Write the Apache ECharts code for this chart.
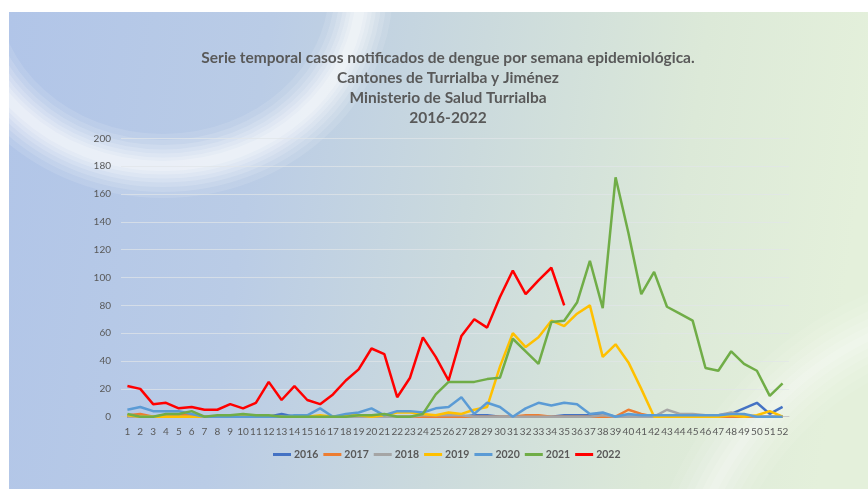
<!DOCTYPE html>
<html>
<head>
<meta charset="utf-8">
<script src="https://cdn.jsdelivr.net/npm/echarts@6/dist/echarts.min.js"></script>
<style>
html,body{margin:0;padding:0;background:#ffffff;}
#chart{width:868px;height:492px;}
</style>
</head>
<body>
<div id="chart"></div>
<script>
// ---- Data ----
const titleLines = [
  'Serie temporal casos notificados de dengue por semana epidemiológica.',
  'Cantones de Turrialba y Jiménez',
  'Ministerio de Salud Turrialba',
  '2016-2022'
];
const weeks = [];
for (let i = 1; i <= 52; i++) weeks.push(String(i));
const seriesNames = ['2016','2017','2018','2019','2020','2021','2022'];
const seriesColors = ['#4472C4','#ED7D31','#A5A5A5','#FFC000','#5B9BD5','#70AD47','#FF0000'];

const y2016 = [0,0,0,0,0,0,0,0,0,0,0,0,2,0,0,0,0,0,0,0,0,0,0,0,0,0,0,1,1,0,0,0,0,0,1,1,1,2,0,0,0,0,0,0,0,0,1,2,6,10,2,7];
const y2017 = [1,2,0,1,1,1,0,0,0,0,0,0,0,0,0,0,0,0,0,0,0,0,0,0,0,0,0,0,0,0,0,1,1,0,0,0,0,0,0,5,2,0,0,0,0,0,0,0,0,0,0,0];
const y2018 = [0,0,0,0,0,0,0,0,0,0,0,0,0,0,0,0,0,0,0,0,0,0,0,1,1,1,1,0,0,0,0,0,0,0,0,0,0,1,0,0,0,0,5,2,2,1,1,3,1,0,0,0];
const y2019 = [1,0,0,0,0,0,0,0,0,1,1,0,0,0,0,1,0,1,1,0,1,3,3,2,1,3,2,5,7,36,60,50,57,69,65,74,80,43,52,39,20,0,0,0,0,0,0,1,0,1,4,0];
const y2020 = [5,7,4,4,4,2,0,0,0,0,0,0,0,1,1,6,0,2,3,6,1,4,4,3,6,7,14,2,10,7,0,6,10,8,10,9,2,3,0,2,1,1,1,1,1,1,1,2,2,0,0,0];
const y2021 = [2,0,0,2,2,4,0,1,1,2,1,1,0,0,0,0,0,0,1,1,2,0,0,2,16,25,25,25,27,28,56,47,38,68,69,82,112,78,172,132,88,104,79,74,69,35,33,47,38,33,15,24];
const y2022 = [22,20,9,10,6,7,5,5,9,6,10,25,12,22,12,9,16,26,34,49,45,14,28,57,43,26,58,70,64,86,105,88,98,107,80];

const yMin = 0, yMax = 200, yStep = 20;
const seriesData = [y2016, y2017, y2018, y2019, y2020, y2021, y2022];

// ---- Chart ----
const chart = echarts.init(document.getElementById('chart'), null, {renderer: 'canvas'});
const textColor = '#595959';
const font = 'Lato, "Liberation Sans", sans-serif';

const graphics = [
  {
    type: 'rect', z: -100, silent: true,
    shape: {x: 9, y: 12, width: 859, height: 477},
    style: {
      fill: new echarts.graphic.LinearGradient(0, 0, 1, 0.25, [
        {offset: 0, color: '#b1c5e8'},
        {offset: 0.3, color: '#bacce6'},
        {offset: 0.55, color: '#cbdadd'},
        {offset: 0.8, color: '#dce9d8'},
        {offset: 1, color: '#e4f0db'}
      ])
    }
  }
];
[64, 52, 42, 33, 25, 17, 10].forEach((w, k) => graphics.push({
  type: 'ellipse', z: -90, silent: true,
  shape: {cx: 163, cy: -12, rx: 198, ry: 178},
  style: {fill: 'none', stroke: 'rgba(255,255,255,' + (0.11 + k * 0.02) + ')', lineWidth: w}
}));
[80, 64, 48, 34, 20, 8].forEach((w, k) => graphics.push({
  type: 'ellipse', z: -90, silent: true,
  shape: {cx: 1010, cy: 650, rx: 335, ry: 345},
  style: {fill: 'none', stroke: 'rgba(255,255,255,' + (0.07 + k * 0.014) + ')', lineWidth: w}
}));
// white frame to cover decorations outside panel
graphics.push({type: 'rect', z: -80, silent: true, shape: {x: 0, y: 0, width: 868, height: 12}, style: {fill: '#fff'}});
graphics.push({type: 'rect', z: -80, silent: true, shape: {x: 0, y: 0, width: 9, height: 492}, style: {fill: '#fff'}});
graphics.push({type: 'rect', z: -80, silent: true, shape: {x: 0, y: 489, width: 868, height: 3}, style: {fill: '#fff'}});

const option = {
  backgroundColor: 'transparent',
  animation: false,
  graphic: {elements: graphics},
  title: {
    text: titleLines.join('\n'),
    left: 443, top: 43, textAlign: 'center',
    textStyle: {
      fontFamily: font, fontSize: 15.5, fontWeight: 'bold', color: textColor, lineHeight: 20
    }
  },
  legend: {
    data: seriesNames,
    left: 268, top: 444,
    icon: 'rect', itemWidth: 18, itemHeight: 3, itemGap: 5,
    textStyle: {fontFamily: font, fontSize: 10.5, fontWeight: 'bold', color: textColor, padding: [0,0,0,-2]}
  },
  grid: {left: 121, right: 79, top: 138.3, bottom: 75.3, containLabel: false},
  xAxis: {
    type: 'category', data: weeks, boundaryGap: true,
    axisLine: {show: true, lineStyle: {color: '#c8c8c8', width: 1}},
    axisTick: {show: false},
    axisLabel: {interval: 0, fontFamily: font, fontSize: 10, color: textColor, margin: 10}
  },
  yAxis: {
    type: 'value', min: yMin, max: yMax, interval: yStep,
    axisLine: {show: false}, axisTick: {show: false},
    splitLine: {lineStyle: {color: 'rgba(225,230,232,0.7)', width: 1}},
    axisLabel: {fontFamily: font, fontSize: 10, color: textColor, margin: 10}
  },
  series: seriesNames.map((n, i) => ({
    name: n, type: 'line', data: seriesData[i],
    symbol: 'none', smooth: false, connectNulls: false,
    color: seriesColors[i],
    lineStyle: {width: 2.5, color: seriesColors[i]},
    z: 2 + i
  }))
};
chart.setOption(option);
</script>
</body>
</html>
